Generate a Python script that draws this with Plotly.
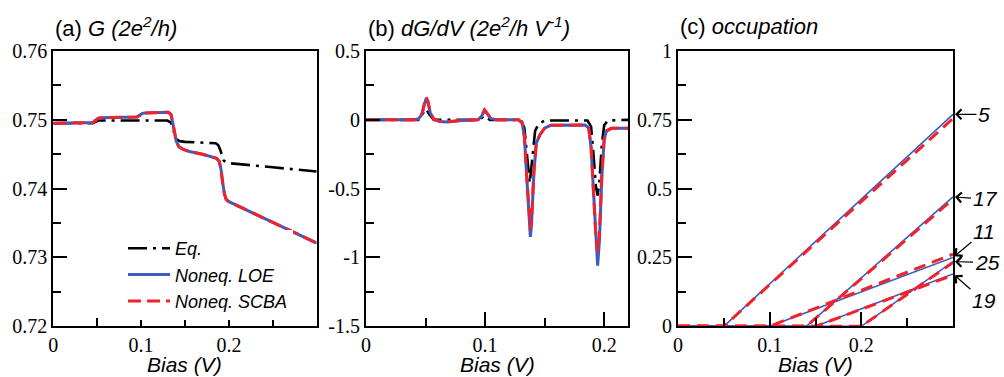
import plotly.graph_objects as go

# ---------------- (a) conductance G, units of 2e^2/h ----------------
a_bias_eq = [0.000, 0.045, 0.048, 0.051, 0.055, 0.095, 0.100, 0.105, 0.130, 0.134,
             0.136, 0.138, 0.140, 0.144, 0.150, 0.185, 0.188, 0.190, 0.192, 0.194,
             0.197, 0.200, 0.250, 0.300]
a_g_eq = [0.7495, 0.7495, 0.7497, 0.7499, 0.7499, 0.7499, 0.7500, 0.7500, 0.7499, 0.7496,
          0.7488, 0.7478, 0.7472, 0.7469, 0.7468, 0.7466, 0.7463, 0.7457, 0.7448, 0.7441,
          0.7438, 0.7437, 0.7431, 0.7425]

a_bias = [0.000, 0.040, 0.045, 0.048, 0.051, 0.055, 0.060, 0.095, 0.098, 0.101,
          0.104, 0.110, 0.125, 0.131, 0.134, 0.136, 0.138, 0.140, 0.143, 0.148,
          0.155, 0.170, 0.186, 0.189, 0.191, 0.193, 0.195, 0.197, 0.200, 0.250,
          0.300]
a_g_loe = [0.7495, 0.7495, 0.7496, 0.7499, 0.7502, 0.7503, 0.7503, 0.7504, 0.7506, 0.7509,
           0.7510, 0.7510, 0.7511, 0.7511, 0.7508, 0.7497, 0.7483, 0.7469, 0.7461, 0.7457,
           0.7454, 0.7450, 0.7444, 0.7440, 0.7428, 0.7408, 0.7392, 0.7384, 0.7381, 0.7351,
           0.7321]
a_g_scba = [0.7495, 0.7495, 0.7496, 0.7499, 0.7502, 0.7503, 0.7503, 0.7504, 0.7506, 0.7509,
            0.7510, 0.7510, 0.7511, 0.7511, 0.7508, 0.7497, 0.7483, 0.7469, 0.7461, 0.7457,
            0.7454, 0.7450, 0.7444, 0.7440, 0.7428, 0.7408, 0.7392, 0.7384, 0.7381, 0.7351,
            0.7321]

# ---------------- (b) dG/dV, units of 2e^2/h V^-1 ----------------
b_bias_eq = [0.000, 0.044, 0.048, 0.0505, 0.053, 0.057, 0.095, 0.0995, 0.104, 0.130,
             0.133, 0.135, 0.1375, 0.140, 0.142, 0.145, 0.150, 0.186, 0.189, 0.191,
             0.193, 0.1945, 0.196, 0.198, 0.200, 0.203, 0.220]
b_dg_eq = [0.000, 0.000, 0.050, 0.080, 0.040, 0.000, 0.000, 0.030, 0.000, 0.000,
           -0.060, -0.250, -0.460, -0.250, -0.080, -0.030, -0.005, -0.005, -0.050, -0.250,
           -0.480, -0.550, -0.450, -0.180, -0.040, -0.005, 0.000]

b_bias = [0.000, 0.040, 0.044, 0.047, 0.049, 0.0505, 0.052, 0.054, 0.057, 0.062,
          0.068, 0.080, 0.094, 0.097, 0.0995, 0.102, 0.105, 0.110, 0.128, 0.131,
          0.133, 0.135, 0.137, 0.138, 0.139, 0.141, 0.143, 0.146, 0.150, 0.155,
          0.184, 0.187, 0.189, 0.191, 0.193, 0.1945, 0.196, 0.198, 0.200, 0.202,
          0.206, 0.220]
b_dg_loe = [0.000, 0.000, 0.006, 0.040, 0.110, 0.155, 0.130, 0.050, 0.005, -0.012,
            -0.015, -0.005, 0.000, 0.025, 0.070, 0.045, 0.008, 0.000, 0.000, -0.020,
            -0.120, -0.420, -0.760, -0.850, -0.760, -0.380, -0.170, -0.110, -0.060, -0.040,
            -0.038, -0.060, -0.200, -0.520, -0.900, -1.060, -0.880, -0.420, -0.140, -0.080,
            -0.062, -0.062]
b_dg_scba = [0.000, 0.000, 0.006, 0.045, 0.120, 0.165, 0.135, 0.050, 0.005, -0.012,
             -0.015, -0.005, 0.000, 0.025, 0.072, 0.045, 0.008, 0.000, 0.000, -0.020,
             -0.120, -0.410, -0.730, -0.800, -0.730, -0.370, -0.170, -0.110, -0.060, -0.040,
             -0.038, -0.060, -0.200, -0.500, -0.850, -0.960, -0.830, -0.400, -0.140, -0.080,
             -0.062, -0.062]

# ---------------- (c) vibrational mode occupations ----------------
c_modes = ["5", "17", "11", "25", "19"]
c_onset = [0.05, 0.14, 0.10, 0.20, 0.15]          # bias where each mode starts to fill
c_bias_max = 0.3
c_end_loe = [0.770, 0.470, 0.250, 0.235, 0.190]   # occupation at the largest bias
c_end_scba = [0.755, 0.462, 0.262, 0.232, 0.186]
c_label_offset = [(31, 0), (32, 2), (31, -26), (34, 1), (31, 27)]

# ---------------- styling ----------------
BLUE = "#3d5cc2"
RED = "#f0222e"
W, H = 1004, 377
SANS = "Liberation Sans"
SERIF = "Liberation Serif"

eq_line = dict(color="black", width=2.6, dash="19px,6px,3px,6px")
loe_line = dict(color=BLUE, width=3)
scba_line = dict(color=RED, width=3, dash="13px,6px")

fig = go.Figure()

# (a)
fig.add_trace(go.Scatter(x=a_bias_eq, y=a_g_eq, mode="lines", line=eq_line,
                         name="Eq.", xaxis="x", yaxis="y"))
fig.add_trace(go.Scatter(x=a_bias, y=a_g_loe, mode="lines", line=loe_line,
                         name="Noneq. LOE", xaxis="x", yaxis="y"))
fig.add_trace(go.Scatter(x=a_bias, y=a_g_scba, mode="lines", line=scba_line,
                         name="Noneq. SCBA", xaxis="x", yaxis="y"))

# (b)
fig.add_trace(go.Scatter(x=b_bias_eq, y=b_dg_eq, mode="lines", line=eq_line,
                         showlegend=False, xaxis="x2", yaxis="y2"))
fig.add_trace(go.Scatter(x=b_bias, y=b_dg_loe, mode="lines", line=loe_line,
                         showlegend=False, xaxis="x2", yaxis="y2"))
fig.add_trace(go.Scatter(x=b_bias, y=b_dg_scba, mode="lines", line=scba_line,
                         showlegend=False, xaxis="x2", yaxis="y2"))

# (c)
for onset, end_loe in zip(c_onset, c_end_loe):
    fig.add_trace(go.Scatter(x=[0, onset, c_bias_max], y=[0, 0, end_loe], mode="lines",
                             line=dict(color=BLUE, width=1.6),
                             showlegend=False, xaxis="x3", yaxis="y3"))
for onset, end_scba in zip(c_onset, c_end_scba):
    fig.add_trace(go.Scatter(x=[0, onset, c_bias_max], y=[0, 0, end_scba], mode="lines",
                             line=dict(color=RED, width=3, dash="12px,7px"),
                             showlegend=False, xaxis="x3", yaxis="y3"))


def axis_style(rng, tickvals, ticktext, minorvals, domain, anchor):
    return dict(
        range=rng, domain=domain, anchor=anchor,
        tickmode="array", tickvals=tickvals, ticktext=ticktext,
        showline=True, linecolor="black", linewidth=2, mirror=True,
        ticks="inside", ticklen=14, tickwidth=1.5, tickcolor="black",
        minor=dict(tickmode="array", tickvals=minorvals, ticks="inside",
                   ticklen=8, tickwidth=1.5, tickcolor="black", showgrid=False),
        showgrid=False, zeroline=False,
        tickfont=dict(family=SERIF, size=20, color="black"),
    )


ydom = [1 - 326.3 / H, 1 - 51 / H]
xdom_a = [53.3 / W, 316.7 / W]
xdom_b = [366 / W, 628 / W]
xdom_c = [678 / W, 953 / W]

bias_ticks = [0, 0.1, 0.2]
bias_text = ["0", "0.1", "0.2"]

layout = dict(
    width=W, height=H,
    margin=dict(l=0, r=0, t=0, b=0, autoexpand=False),
    paper_bgcolor="white", plot_bgcolor="white",
    xaxis=axis_style([0, 0.3], bias_ticks, bias_text, [0.05, 0.15, 0.25], xdom_a, "y"),
    yaxis=axis_style([0.72, 0.76], [0.72, 0.73, 0.74, 0.75, 0.76],
                     ["0.72", "0.73", "0.74", "0.75", "0.76"],
                     [0.725, 0.735, 0.745, 0.755], ydom, "x"),
    xaxis2=axis_style([0, 0.22], bias_ticks, bias_text, [0.05, 0.15], xdom_b, "y2"),
    yaxis2=axis_style([-1.5, 0.5], [-1.5, -1, -0.5, 0, 0.5],
                      ["-1.5", "-1", "-0.5", "0", "0.5"],
                      [-1.25, -0.75, -0.25, 0.25], ydom, "x2"),
    xaxis3=axis_style([0, 0.3], bias_ticks, bias_text, [0.05, 0.15, 0.25], xdom_c, "y3"),
    yaxis3=axis_style([0, 1], [0, 0.25, 0.5, 0.75, 1],
                      ["0", "0.25", "0.5", "0.75", "1"],
                      [0.125, 0.375, 0.625, 0.875], ydom, "x3"),
    legend=dict(x=123 / W, y=1 - 230 / H, xanchor="left", yanchor="top",
                bgcolor="white", borderwidth=0, itemwidth=42, tracegroupgap=0,
                font=dict(family=SANS, size=18, color="black", style="italic")),
    showlegend=True,
)
fig.update_layout(**layout)

# panel titles and axis titles
title_font = dict(family=SANS, size=22, color="black")
axis_title_font = dict(family=SANS, size=21, color="black")
panel_titles = ["(a) <i>G (2e<sup>2</sup>/h)</i>",
                "(b) <i>dG/dV (2e<sup>2</sup>/h V<sup>-1</sup>)</i>",
                "(c) <i>occupation</i>"]
for dom, txt in zip([xdom_a, xdom_b, xdom_c], panel_titles):
    fig.add_annotation(text=txt, xref="paper", yref="paper", x=dom[0], y=1 - 27 / H,
                       xanchor="left", yanchor="middle", showarrow=False, font=title_font)
    fig.add_annotation(text="<i>Bias (V)</i>", xref="paper", yref="paper",
                       x=(dom[0] + dom[1]) / 2, y=1 - 364 / H,
                       xanchor="center", yanchor="middle", showarrow=False,
                       borderpad=0, font=axis_title_font)

# mode labels with arrows in (c)
for mode, end_loe, (ox, oy) in zip(c_modes, c_end_loe, c_label_offset):
    fig.add_annotation(text=f"<i>{mode}</i>", x=c_bias_max, y=end_loe, xref="x3", yref="y3",
                       ax=ox, ay=oy, showarrow=True, arrowhead=4, arrowsize=1.6,
                       arrowwidth=1.2, arrowcolor="black", standoff=2,
                       font=dict(family=SANS, size=21, color="black"))

fig.write_html("out.html")
